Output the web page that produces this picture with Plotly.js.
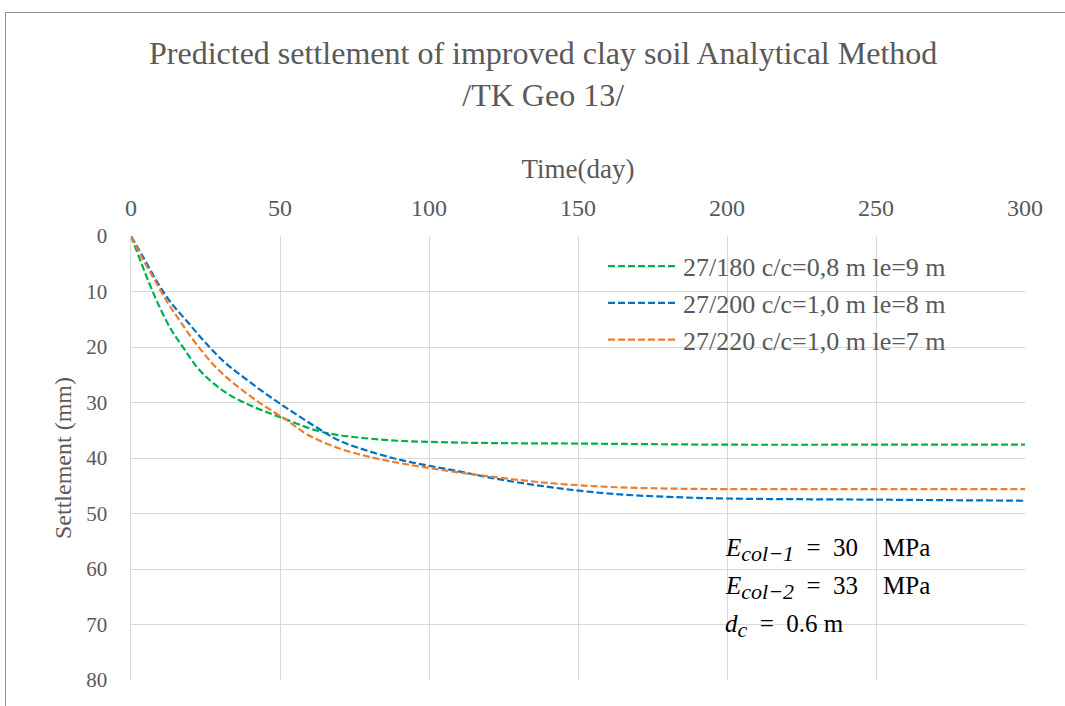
<!DOCTYPE html>
<html>
<head>
<meta charset="utf-8">
<script src="https://cdn.plot.ly/plotly-3.0.1.min.js"></script>
<style>
html,body{margin:0;padding:0;background:#fff;}
#chart{width:1065px;height:706px;}
#frame{position:absolute;left:5px;top:12px;width:1070px;height:710px;border-top:1px solid #8c8c8c;border-left:1px solid #8c8c8c;pointer-events:none;}
</style>
</head>
<body>
<div id="chart"></div>
<div id="frame"></div>
<script>
// Time (day)
const daysGreen = [0, 3.4, 5.6, 8.9, 13.4, 17.9, 22.4, 28, 33.6, 40.3, 50.3, 62.6, 70, 80, 90, 100, 120, 150, 200, 250, 300];
const greenVals = [0, 4.8, 7.8, 12.0, 16.8, 20.4, 23.8, 26.7, 28.8, 30.6, 32.7, 35.1, 35.9, 36.5, 36.9, 37.1, 37.3, 37.4, 37.6, 37.6, 37.6];

const daysBlue = [0, 4.5, 8.9, 13.4, 19, 24.6, 31.3, 39.1, 47, 54.8, 62.6, 70, 80, 90, 100, 110, 120, 140, 160, 180, 200, 250, 300];
const blueVals = [0, 4.2, 8.4, 12.0, 15.5, 19.0, 22.7, 26.0, 29.1, 31.9, 34.6, 36.9, 38.8, 40.3, 41.4, 42.4, 43.5, 45.2, 46.4, 47.0, 47.3, 47.5, 47.7];

const daysOrange = [0, 3.4, 7.8, 12.3, 16.8, 22.4, 29.1, 36.9, 44.7, 52.6, 59.3, 70, 80, 90, 100, 110, 120, 140, 160, 180, 200, 250, 300];
const orangeVals = [0, 3.6, 7.8, 12.0, 15.6, 19.8, 24.0, 27.6, 30.6, 33.3, 35.8, 38.3, 39.8, 40.9, 41.8, 42.6, 43.3, 44.5, 45.2, 45.5, 45.6, 45.6, 45.6];

const seriesNames = ["27/180 c/c=0,8 m le=9 m", "27/200 c/c=1,0 m le=8 m", "27/220 c/c=1,0 m le=7 m"];
const xTicks = [0, 50, 100, 150, 200, 250, 300];
const yTicks = [0, 10, 20, 30, 40, 50, 60, 70, 80];
const noteLines = [
  "<i>E</i><sub><span style=\"font-size:22px\"><i>col−1</i></span></sub>\u2002=\u200230\u2003MPa",
  "<i>E</i><sub><span style=\"font-size:22px\"><i>col−2</i></span></sub>\u2002=\u200233\u2003MPa",
  "<i>d</i><sub><span style=\"font-size:22px\"><i>c</i></span></sub>\u2002=\u20020.6 m"
];

const font = "Liberation Serif, Times New Roman, serif";
const txt = "#595959";
const grid = "#d9d9d9";
const dash = "7px,3px";

const traces = [
  {x: daysGreen, y: greenVals, name: seriesNames[0], mode: "lines", line: {color: "#00B050", width: 2.2, dash: dash, shape: "spline", smoothing: 1}},
  {x: daysBlue, y: blueVals, name: seriesNames[1], mode: "lines", line: {color: "#0070C0", width: 2.2, dash: dash, shape: "spline", smoothing: 1}},
  {x: daysOrange, y: orangeVals, name: seriesNames[2], mode: "lines", line: {color: "#ED7D31", width: 2.2, dash: dash, shape: "spline", smoothing: 1}}
];

const annotations = noteLines.map((t, i) => ({
  text: t, xref: "paper", yref: "paper", x: 0.662, y: 0.292 - i * 0.0855,
  xanchor: "left", yanchor: "middle", showarrow: false,
  font: {family: font, size: 25, color: "#000"}
}));

const layout = {
  width: 1065, height: 706,
  margin: {l: 131, r: 40, t: 236, b: 26},
  paper_bgcolor: "#fff", plot_bgcolor: "#fff",
  title: {text: "Predicted settlement of improved clay soil Analytical Method<br>/TK Geo 13/",
          font: {family: font, size: 32, color: txt},
          xref: "container", x: 0.51, xanchor: "center",
          yref: "container", y: 0.909, yanchor: "top"},
  xaxis: {side: "top", range: [0, 300], tickvals: xTicks, ticks: "",
          showgrid: true, gridcolor: grid, gridwidth: 1, zeroline: false,
          showline: false, ticklabelstandoff: 14,
          tickfont: {family: font, size: 24, color: txt},
          title: {text: "Time(day)", font: {family: font, size: 27, color: txt}, standoff: 8}},
  yaxis: {range: [80, 0], tickvals: yTicks, ticks: "",
          showgrid: true, gridcolor: grid, gridwidth: 1, zeroline: false,
          showline: true, linecolor: grid, linewidth: 1.5, mirror: false,
          tickfont: {family: font, size: 21, color: txt}, ticklabelstandoff: 18,
          title: {text: "Settlement (mm)", font: {family: font, size: 24, color: txt}, standoff: 8}},
  showlegend: true,
  legend: {x: 0.528, y: 0.985, xanchor: "left", yanchor: "top", bgcolor: "rgba(255,255,255,0)",
           font: {family: font, size: 26, color: txt}, itemwidth: 70, tracegroupgap: 0},
  annotations: annotations
};

Plotly.newPlot("chart", traces, layout, {displayModeBar: false, staticPlot: true});
</script>
</body>
</html>
